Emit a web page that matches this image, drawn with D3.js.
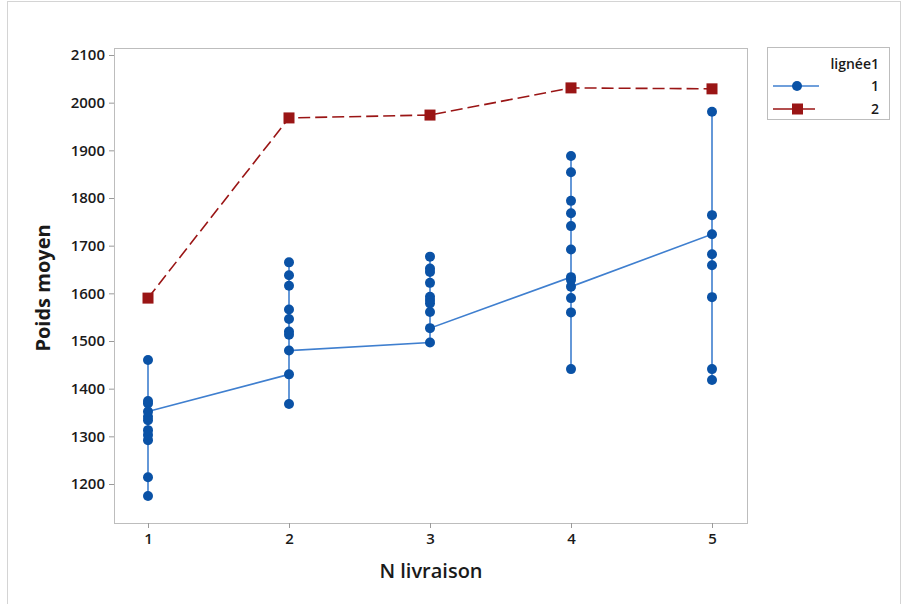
<!DOCTYPE html>
<html lang="fr">
<head>
<meta charset="utf-8">
<script src="https://d3js.org/d3.v7.min.js"></script>
<style>
  body { margin: 0; background: #fff; }
  text { font-family: "Open Sans", "Noto Sans", sans-serif; fill: #1a1a1a; }
</style>
</head>
<body>
<svg id="chart" width="902" height="604"></svg>
<script>
// N livraison (x categories)
const livraison = [1, 2, 3, 4, 5];

// lignée 1 : poids individuels, dans l'ordre de la feuille (relie par la ligne)
const l1_liv1 = [1460, 1175, 1214, 1292, 1303, 1313, 1334, 1341, 1369, 1374, 1352];
const l1_liv2 = [1430, 1368, 1665, 1638, 1616, 1566, 1546, 1520, 1513, 1480];
const l1_liv3 = [1497, 1677, 1652, 1645, 1622, 1593, 1586, 1579, 1561, 1527];
const l1_liv4 = [1634, 1888, 1854, 1794, 1768, 1741, 1692, 1628, 1441, 1560, 1590, 1614];
const l1_liv5 = [1724, 1981, 1764, 1682, 1659, 1592, 1441, 1418];

// lignée 2
const l2 = [1590, 1968, 1974, 2031, 2029];

const yTicks = [1200, 1300, 1400, 1500, 1600, 1700, 1800, 1900, 2000, 2100];

const blue = "#0a52a6", blueLine = "#3f7fcf", red = "#9a1515";

const svg = d3.select("#chart");

// outer figure border
svg.append("rect")
    .attr("x", 7.5).attr("y", 1.5)
    .attr("width", 893).attr("height", 640)
    .attr("fill", "none").attr("stroke", "#d4d4d4");

const pLeft = 114, pRight = 747, pTop = 48, pBottom = 523;

const x = d3.scaleLinear().domain([1, 5]).range([148, 712]);
const y = d3.scaleLinear().domain([1200, 2100]).range([484, 55]);

// frame
svg.append("rect")
    .attr("x", pLeft + 0.5).attr("y", pTop + 0.5)
    .attr("width", pRight - pLeft).attr("height", pBottom - pTop)
    .attr("fill", "#fff").attr("stroke", "#bdbdbd");

const yAxis = svg.append("g")
    .attr("transform", `translate(${pLeft},0)`)
    .call(d3.axisLeft(y).tickValues(yTicks).tickSize(5).tickPadding(4).tickFormat(d3.format("d")));
const xAxis = svg.append("g")
    .attr("transform", `translate(0,${pBottom})`)
    .call(d3.axisBottom(x).tickValues(livraison).tickSize(5).tickPadding(5).tickFormat(d3.format("d")));

[yAxis, xAxis].forEach(g => {
  g.select(".domain").remove();
  g.selectAll(".tick line").attr("stroke", "#9a9a9a");
  g.selectAll(".tick text").style("font-size", "15px").style("font-weight", 600).attr("fill", "#1a1a1a");
});

// axis titles
svg.append("text")
    .attr("x", 431).attr("y", 578)
    .attr("text-anchor", "middle")
    .style("font-size", "20px").style("font-weight", 600)
    .text("N livraison");
svg.append("text")
    .attr("transform", "translate(50,288) rotate(-90)")
    .attr("text-anchor", "middle")
    .style("font-size", "20px").style("font-weight", 700)
    .text("Poids moyen");

// lignée 1 points in order
const groups = [l1_liv1, l1_liv2, l1_liv3, l1_liv4, l1_liv5];
const pts1 = [];
groups.forEach((g, i) => g.forEach(v => pts1.push({ x: livraison[i], y: v })));

const line = d3.line().x(d => x(d.x)).y(d => y(d.y));

svg.append("path")
    .datum(pts1)
    .attr("d", line)
    .attr("fill", "none")
    .attr("stroke", blueLine)
    .attr("stroke-width", 1.6);

svg.append("g").selectAll("circle")
  .data(pts1)
  .join("circle")
    .attr("cx", d => x(d.x))
    .attr("cy", d => y(d.y))
    .attr("r", 5)
    .attr("fill", blue);

// lignée 2
const pts2 = l2.map((v, i) => ({ x: livraison[i], y: v }));
svg.append("path")
    .datum(pts2)
    .attr("d", line)
    .attr("fill", "none")
    .attr("stroke", red)
    .attr("stroke-width", 1.6)
    .attr("stroke-dasharray", "12,5");

svg.append("g").selectAll("rect")
  .data(pts2)
  .join("rect")
    .attr("x", d => x(d.x) - 5.5)
    .attr("y", d => y(d.y) - 5.5)
    .attr("width", 11).attr("height", 11)
    .attr("fill", red);

// legend
const lg = svg.append("g");
lg.append("rect")
    .attr("x", 767.5).attr("y", 47.5)
    .attr("width", 122).attr("height", 72)
    .attr("fill", "#fff").attr("stroke", "#bdbdbd");
lg.append("text")
    .attr("x", 879).attr("y", 69)
    .attr("text-anchor", "end")
    .style("font-size", "14px").style("font-weight", 600)
    .text("lignée1");

lg.append("line")
    .attr("x1", 773).attr("x2", 819).attr("y1", 86).attr("y2", 86)
    .attr("stroke", blueLine).attr("stroke-width", 1.6);
lg.append("circle").attr("cx", 797).attr("cy", 86).attr("r", 5).attr("fill", blue);
lg.append("text").attr("x", 879).attr("y", 91).attr("text-anchor", "end")
    .style("font-size", "14px").style("font-weight", 600).text("1");

lg.append("line")
    .attr("x1", 773).attr("x2", 815).attr("y1", 109).attr("y2", 109)
    .attr("stroke", red).attr("stroke-width", 1.6);
lg.append("rect").attr("x", 792).attr("y", 103.5).attr("width", 11).attr("height", 11).attr("fill", red);
lg.append("text").attr("x", 879).attr("y", 114).attr("text-anchor", "end")
    .style("font-size", "14px").style("font-weight", 600).text("2");
</script>
</body>
</html>
